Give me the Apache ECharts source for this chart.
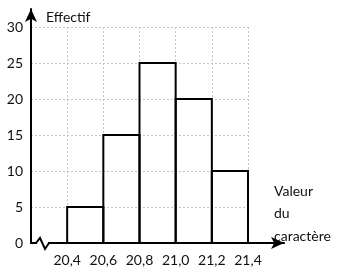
<!DOCTYPE html>
<html>
<head>
<meta charset="utf-8">
<script src="https://cdn.jsdelivr.net/npm/echarts@6/dist/echarts.min.js"></script>
<style>html,body{margin:0;padding:0;background:#fff}#c{width:348px;height:276px}</style>
</head>
<body>
<div id="c"></div>
<script>
// Class edges (valeur du caractère) and counts (effectif)
const edges = [20.4, 20.6, 20.8, 21.0, 21.2, 21.4];
const counts = [5, 15, 25, 20, 10];
const xName = 'Valeur\ndu\ncaractère';
const yName = 'Effectif';

const bars = counts.map((c, i) => [edges[i], edges[i + 1], c]);
const FONT = 'Lato';
const fmtX = v => (Math.round(v * 10) / 10).toFixed(1).replace('.', ',');

const chart = echarts.init(document.getElementById('c'), null, {renderer: 'canvas'});
chart.setOption({
  animation: false,
  backgroundColor: '#fff',
  title: {
    text: xName, left: 274, top: 180, padding: 0,
    textStyle: {color: '#111', fontFamily: FONT, fontSize: 14, fontWeight: 'normal', lineHeight: 22.5}
  },
  grid: [
    {left: 31, top: 27, width: 217, height: 216, outerBoundsMode: 'none', containLabel: false},
    {left: 31, top: 9, width: 253, bottom: 33, outerBoundsMode: 'none', containLabel: false}
  ],
  xAxis: [
    {
      type: 'value', gridIndex: 0, min: 20.2, max: 21.4, interval: 0.2,
      axisLine: {show: false}, axisTick: {show: false},
      axisLabel: {showMinLabel: false, formatter: fmtX, margin: 10, color: '#111', fontFamily: FONT, fontSize: 14},
      splitLine: {show: true, showMinLine: false, lineStyle: {color: '#c4c4c4', type: [2, 2], width: 1}}
    },
    {
      type: 'value', gridIndex: 1, min: 20.2, max: 21.6,
      axisLine: {show: true, onZero: false, symbol: ['none', 'arrow'], symbolSize: [9, 13], lineStyle: {color: '#000', width: 2}},
      axisTick: {show: false}, axisLabel: {show: false}, splitLine: {show: false}
    }
  ],
  yAxis: [
    {
      type: 'value', gridIndex: 0, min: 0, max: 30, interval: 5,
      axisLine: {show: false}, axisTick: {show: false},
      axisLabel: {margin: 8, color: '#111', fontFamily: FONT, fontSize: 14},
      splitLine: {show: true, showMinLine: false, lineStyle: {color: '#c4c4c4', type: [2, 2], width: 1}}
    },
    {
      type: 'value', gridIndex: 1, min: 0, max: 32.5,
      axisLine: {show: true, onZero: false, symbol: ['none', 'arrow'], symbolSize: [9, 13], lineStyle: {color: '#000', width: 2}},
      axisTick: {show: false}, axisLabel: {show: false}, splitLine: {show: false},
      name: yName, nameLocation: 'end', nameGap: -8,
      nameTextStyle: {color: '#111', fontFamily: FONT, fontSize: 14, align: 'left', verticalAlign: 'middle', padding: [0, 0, 0, 15]}
    }
  ],
  series: [{
    type: 'custom', xAxisIndex: 0, yAxisIndex: 0, data: bars,
    encode: {x: [0, 1], y: 2},
    renderItem: function (params, api) {
      const p0 = api.coord([api.value(0), api.value(2)]);
      const p1 = api.coord([api.value(1), 0]);
      return {
        type: 'rect',
        shape: {x: p0[0], y: p0[1], width: p1[0] - p0[0], height: p1[1] - p0[1]},
        style: {fill: 'none', stroke: '#000', lineWidth: 2}
      };
    }
  }]
});

// axis break zigzag near the origin
const o = chart.convertToPixel({xAxisIndex: 1, yAxisIndex: 1}, [20.2, 0]);
chart.setOption({
  graphic: [
    {type: 'rect', shape: {x: o[0] + 6, y: o[1] - 2, width: 11, height: 4}, style: {fill: '#fff'}, z: 100},
    {type: 'polyline', shape: {points: [[o[0] + 5, o[1]], [o[0] + 9, o[1] - 5], [o[0] + 14, o[1] + 6], [o[0] + 18, o[1]]]},
     style: {stroke: '#000', lineWidth: 2, fill: 'none'}, z: 101}
  ]
});
</script>
</body>
</html>
